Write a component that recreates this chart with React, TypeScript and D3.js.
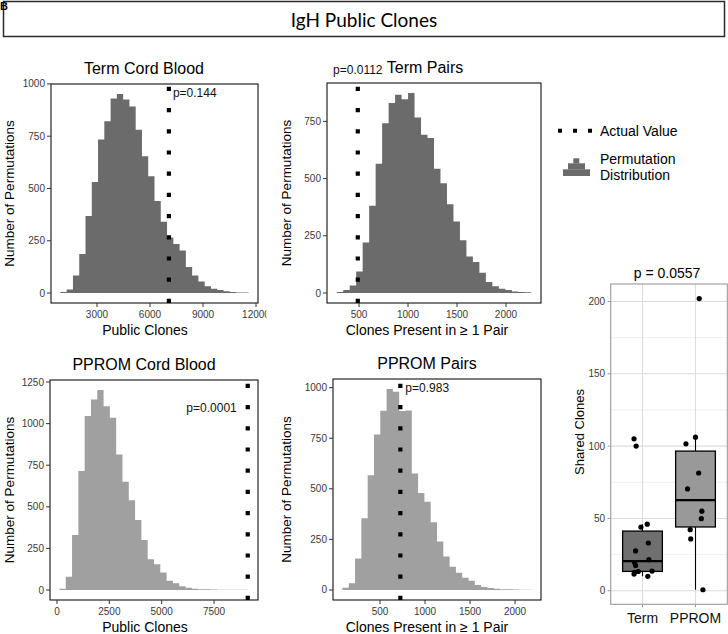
import React from "react";
import * as d3 from "d3";

// ---------- DATA ----------
const headerTitle = "IgH Public Clones";
const panelTitles = ["Term Cord Blood", "Term Pairs", "PPROM Cord Blood", "PPROM Pairs"];
const xAxisTitles = ["Public Clones", "Clones Present in \u2265 1 Pair", "Public Clones", "Clones Present in \u2265 1 Pair"];
const yAxisTitle = "Number of Permutations";

const termCordCounts = [5, 17, 84, 187, 369, 531, 734, 821, 930, 952, 925, 892, 781, 654, 559, 440, 341, 266, 234, 203, 124, 84, 55, 32, 21, 15, 8, 5, 3, 3];
const termPairsCounts = [4, 13, 33, 94, 221, 381, 565, 742, 830, 866, 847, 874, 767, 692, 677, 543, 480, 388, 312, 230, 160, 135, 88, 48, 30, 19, 13, 7, 4, 3];
const ppromCordCounts = [8, 80, 330, 715, 1045, 1145, 1202, 1105, 1035, 815, 650, 540, 420, 300, 185, 155, 105, 55, 40, 22, 14, 8, 5, 4, 3, 2, 2, 1, 1, 1];
const ppromPairsCounts = [11, 33, 155, 355, 567, 768, 886, 993, 980, 885, 887, 575, 479, 436, 335, 240, 165, 115, 85, 60, 45, 25, 15, 10, 6, 4, 3, 2, 1, 1];
const histCounts = [termCordCounts, termPairsCounts, ppromCordCounts, ppromPairsCounts];

const binStarts = [930, 272, 118, 83];
const binWidths = [355, 66.2, 301, 70];
const actualValues = [7070, 487, 9110, 726];
const pLabels = ["p=0.144", "p=0.0112", "p=0.0001", "p=0.983"];

const xTickValues = [
  [3000, 6000, 9000, 12000],
  [500, 1000, 1500, 2000],
  [0, 2500, 5000, 7500],
  [500, 1000, 1500, 2000],
];
const yTickValues = [
  [0, 250, 500, 750, 1000],
  [0, 250, 500, 750],
  [0, 250, 500, 750, 1000, 1250],
  [0, 250, 500, 750, 1000],
];

const legendLabels = ["Actual Value", "Permutation", "Distribution"];

const boxGroups = ["Term", "PPROM"];
const termShared = [10, 11.5, 12.8, 13.3, 13.6, 17.5, 19.5, 21.5, 27.5, 33, 44, 46, 100, 105];
const termJitter = [0.10, -0.16, -0.15, -0.08, 0.18, -0.13, -0.15, 0.12, -0.13, 0.11, -0.03, 0.09, -0.12, -0.16];
const ppromShared = [0.7, 35.8, 42.2, 49.8, 55, 70.4, 81.4, 101.6, 106.2, 202];
const ppromJitter = [0.14, -0.09, -0.10, 0.11, 0.12, -0.15, 0.06, -0.18, 0.0, 0.07];
const boxYTicks = [0, 50, 100, 150, 200];
const boxMinorTicks = [25, 75, 125, 175];
const boxTitle = "p = 0.0557";
const boxYTitle = "Shared Clones";

// ---------- LAYOUT / STYLE ----------
const FONT = "'Liberation Sans', Arial, Helvetica, sans-serif";
const panelLayout = [
  { x0: 51, x1: 258, y0: 84, y1: 303, titleX: 144, xTitleX: 145, yTitleX: 13.5, clipRight: 266.5 },
  { x0: 327, x1: 541, y0: 83, y1: 303, titleX: 425, xTitleX: 427, yTitleX: 290.5, clipRight: 728 },
  { x0: 50, x1: 258, y0: 380, y1: 600, titleX: 144, xTitleX: 145, yTitleX: 13.5, clipRight: 266.5 },
  { x0: 333, x1: 541, y0: 379, y1: 600, titleX: 427, xTitleX: 427, yTitleX: 291, clipRight: 728 },
];
const histFill = ["#6b6b6b", "#6b6b6b", "#a0a0a0", "#a0a0a0"];
const pPlacement = [
  { dx: 4, dy: 13, anchor: "start" },
  { dx: 0, dy: -9, anchor: "middle" },
  { dx: -11, dy: 32, anchor: "end" },
  { dx: 5, dy: 13, anchor: "start" },
];

function Histogram({ idx }: { idx: number }) {
  const L = panelLayout[idx];
  const counts = histCounts[idx];
  const start = binStarts[idx];
  const w = binWidths[idx];
  const actual = actualValues[idx];
  const end = start + counts.length * w;
  const lo = Math.min(start, actual);
  const hi = Math.max(end, actual);
  const R = hi - lo;
  const x = d3.scaleLinear().domain([lo - 0.05 * R, hi + 0.05 * R]).range([L.x0, L.x1]);
  const M = d3.max(counts) as number;
  const y = d3.scaleLinear().domain([-0.05 * M, 1.05 * M]).range([L.y1, L.y0]);
  const bins = counts.map((c, i) => ({ x0: start + i * w, x1: start + (i + 1) * w, c }));
  // one combined path of all bars (avoids anti-aliasing seams)
  const p = d3.path();
  bins.forEach((b) => {
    if (b.c <= 0) return;
    p.rect(x(b.x0), y(b.c), x(b.x1) - x(b.x0), y(0) - y(b.c));
  });
  const xa = x(actual);
  const pp = pPlacement[idx];
  const clipId = `clip-xt-${idx}`;
  return (
    <g>
      <defs>
        <clipPath id={clipId}>
          <rect x={0} y={0} width={L.clipRight} height={634} />
        </clipPath>
      </defs>
      <path d={p.toString()} fill={histFill[idx]} />
      {/* frame */}
      <rect x={L.x0} y={L.y0} width={L.x1 - L.x0} height={L.y1 - L.y0} fill="none" stroke="#111" strokeWidth={1.1} />
      {/* y ticks */}
      {yTickValues[idx].map((t) => (
        <g key={t}>
          <line x1={L.x0 - 4} x2={L.x0} y1={y(t)} y2={y(t)} stroke="#333" strokeWidth={1} />
          <text x={L.x0 - 6} y={y(t)} dy="0.35em" textAnchor="end" fontSize={10} fill="#3a3a3a">
            {t}
          </text>
        </g>
      ))}
      {/* x ticks */}
      <g clipPath={`url(#${clipId})`}>
        {xTickValues[idx].map((t) => (
          <g key={t}>
            <line x1={x(t)} x2={x(t)} y1={L.y1} y2={L.y1 + 4} stroke="#333" strokeWidth={1} />
            <text x={x(t)} y={L.y1 + 14.5} textAnchor="middle" fontSize={10} fill="#3a3a3a">
              {t}
            </text>
          </g>
        ))}
      </g>
      {/* actual value dotted line */}
      <line x1={xa} x2={xa} y1={L.y1} y2={L.y0} stroke="#000" strokeWidth={4.2} strokeDasharray="4.2 17" />
      <text x={xa + pp.dx} y={L.y0 + pp.dy} textAnchor={pp.anchor as any} fontSize={12} fill="#111">
        {pLabels[idx]}
      </text>
      {/* titles */}
      <text x={L.titleX} y={L.y0 - 10} textAnchor="middle" fontSize={16} fill="#000">
        {panelTitles[idx]}
      </text>
      <text x={L.xTitleX} y={L.y1 + 32} textAnchor="middle" fontSize={14} fill="#000">
        {xAxisTitles[idx]}
      </text>
      <text
        transform={`translate(${L.yTitleX},${(L.y0 + L.y1) / 2}) rotate(-90)`}
        textAnchor="middle"
        fontSize={13.5}
        fill="#000"
      >
        {yAxisTitle}
      </text>
    </g>
  );
}

function Legend() {
  return (
    <g>
      <line x1={558} x2={592} y1={130.7} y2={130.7} stroke="#000" strokeWidth={4} strokeDasharray="4 11" />
      <text x={600} y={135.5} fontSize={14} fill="#000">
        {legendLabels[0]}
      </text>
      <rect x={563} y={169.3} width={27} height={6.7} fill="#6b6b6b" />
      <rect x={568} y={163.3} width={17} height={6.2} fill="#6b6b6b" />
      <rect x={573.3} y={158.3} width={6} height={5.2} fill="#6b6b6b" />
      <text x={600} y={164} fontSize={14} fill="#000">
        {legendLabels[1]}
      </text>
      <text x={600} y={179.5} fontSize={14} fill="#000">
        {legendLabels[2]}
      </text>
    </g>
  );
}

function BoxPlot() {
  const left = 610.7, right = 727.3, top = 284, bottom = 604.3;
  const groups = [
    { name: boxGroups[0], vals: termShared, jit: termJitter, fill: "#6f6f6f" },
    { name: boxGroups[1], vals: ppromShared, jit: ppromJitter, fill: "#999999" },
  ];
  const all = [...termShared, ...ppromShared];
  const mn = d3.min(all) as number;
  const mx = d3.max(all) as number;
  const R = mx - mn;
  const y = d3.scaleLinear().domain([mn - 0.05 * R, mx + 0.05 * R]).range([bottom, top]);
  const x = d3.scaleLinear().domain([0.4, 2.6]).range([left, right]);
  const bw = 0.75;
  return (
    <g>
      {boxMinorTicks.map((t) => (
        <line key={"mn" + t} x1={left} x2={right} y1={y(t)} y2={y(t)} stroke="#ececec" strokeWidth={0.8} />
      ))}
      {boxYTicks.map((t) => (
        <line key={"mj" + t} x1={left} x2={right} y1={y(t)} y2={y(t)} stroke="#dcdcdc" strokeWidth={1.1} />
      ))}
      {groups.map((g, i) => (
        <line key={"vx" + i} x1={x(i + 1)} x2={x(i + 1)} y1={top} y2={bottom} stroke="#dcdcdc" strokeWidth={1.1} />
      ))}
      {groups.map((g, i) => {
        const s = [...g.vals].sort((a, b) => a - b);
        const q1 = d3.quantile(s, 0.25) as number;
        const med = d3.quantile(s, 0.5) as number;
        const q3 = d3.quantile(s, 0.75) as number;
        const iqr = q3 - q1;
        const upper = d3.max(s.filter((v) => v <= q3 + 1.5 * iqr)) as number;
        const lower = d3.min(s.filter((v) => v >= q1 - 1.5 * iqr)) as number;
        const cx = x(i + 1);
        const xl = x(i + 1 - bw / 2);
        const xr = x(i + 1 + bw / 2);
        return (
          <g key={"b" + i}>
            <line x1={cx} x2={cx} y1={y(q3)} y2={y(upper)} stroke="#000" strokeWidth={1.1} />
            <line x1={cx} x2={cx} y1={y(q1)} y2={y(lower)} stroke="#000" strokeWidth={1.1} />
            <rect x={xl} y={y(q3)} width={xr - xl} height={y(q1) - y(q3)} fill={g.fill} stroke="#000" strokeWidth={1.3} />
            <line x1={xl} x2={xr} y1={y(med)} y2={y(med)} stroke="#000" strokeWidth={2.2} />
          </g>
        );
      })}
      {groups.map((g, i) =>
        g.vals.map((v, j) => (
          <circle key={`p${i}-${j}`} cx={x(i + 1 + g.jit[j])} cy={y(v)} r={2.6} fill="#000" />
        ))
      )}
      <rect x={left} y={top} width={right - left} height={bottom - top} fill="none" stroke="#9a9a9a" strokeWidth={1.1} />
      {boxYTicks.map((t) => (
        <g key={"yt" + t}>
          <line x1={left - 3} x2={left} y1={y(t)} y2={y(t)} stroke="#9a9a9a" strokeWidth={1} />
          <text x={left - 5.5} y={y(t)} dy="0.35em" textAnchor="end" fontSize={10} fill="#3a3a3a">
            {t}
          </text>
        </g>
      ))}
      {groups.map((g, i) => (
        <g key={"xt" + i}>
          <line x1={x(i + 1)} x2={x(i + 1)} y1={bottom} y2={bottom + 3} stroke="#9a9a9a" strokeWidth={1} />
          <text x={x(i + 1)} y={622.7} textAnchor="middle" fontSize={14} fill="#111">
            {g.name}
          </text>
        </g>
      ))}
      <text x={(left + right) / 2 - 2} y={278.3} textAnchor="middle" fontSize={14} fill="#000">
        {boxTitle}
      </text>
      <text transform={`translate(583.5,432) rotate(-90)`} textAnchor="middle" fontSize={13} fill="#000">
        {boxYTitle}
      </text>
    </g>
  );
}

export default function App() {
  return (
    <svg
      width={728}
      height={634}
      viewBox="0 0 728 634"
      style={{ position: "absolute", left: 0, top: 0, background: "#fff" }}
      fontFamily={FONT}
    >
      <rect x={0} y={0} width={728} height={634} fill="#fff" />
      <rect x={3.5} y={1.5} width={721} height={35} fill="#fff" stroke="#2a2a2a" strokeWidth={1.5} />
      <text x={364} y={27} textAnchor="middle" fontSize={19} fontFamily="Lato, 'Open Sans', sans-serif" fill="#000">
        {headerTitle}
      </text>
      <text x={0} y={10} fontSize={11} fontWeight="bold" fill="#000">
        B
      </text>
      {panelLayout.map((_, i) => (
        <Histogram key={i} idx={i} />
      ))}
      <Legend />
      <BoxPlot />
    </svg>
  );
}
